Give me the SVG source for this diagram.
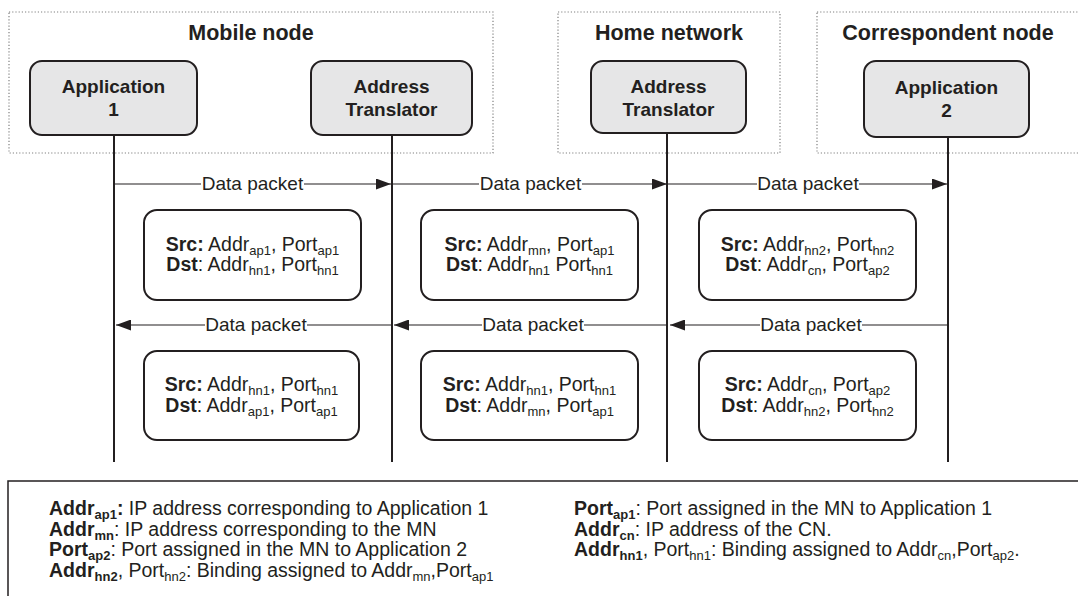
<svg xmlns="http://www.w3.org/2000/svg" width="1078" height="596" viewBox="0 0 1078 596">
<defs>
<style>
.grp{fill:none;stroke:#808080;stroke-width:1.2;stroke-dasharray:1.2 2}
.title{font-family:"Liberation Sans",Arial,sans-serif;font-weight:bold;font-size:21.5px;fill:#231f20;text-anchor:middle}
.node{fill:#e6e6e7;stroke:#231f20;stroke-width:2}
.ntext{font-family:"Liberation Sans",Arial,sans-serif;font-weight:bold;font-size:19px;fill:#231f20;text-anchor:middle}
.life{stroke:#231f20;stroke-width:2}
.conn{stroke:#231f20;stroke-width:1.2;fill:none}
.lbl{font-family:"Liberation Sans",Arial,sans-serif;font-size:19px;fill:#231f20;text-anchor:middle}
.pkt{fill:#fff;stroke:#231f20;stroke-width:2}
.ptext{font-family:"Liberation Sans",Arial,sans-serif;font-size:19.5px;fill:#231f20;text-anchor:middle}
.leg{font-family:"Liberation Sans",Arial,sans-serif;font-size:19.5px;fill:#231f20}
.b{font-weight:bold}
.s{font-size:13px}
</style>
<marker id="ah" markerUnits="userSpaceOnUse" markerWidth="15" markerHeight="11" refX="15" refY="5.5" orient="auto">
<path d="M0,0 L15,5.5 L0,11 z" fill="#231f20"/>
</marker>
</defs>
<rect width="1078" height="596" fill="#fff"/>

<g id="group-mobile">
<rect class="grp" x="9" y="12" width="484" height="141"/>
<text class="title" x="251" y="40">Mobile node</text>
</g>
<g id="group-home">
<rect class="grp" x="558" y="12" width="222" height="141"/>
<text class="title" x="669" y="40">Home network</text>
</g>
<g id="group-cn">
<rect class="grp" x="817" y="12" width="300" height="141"/>
<text class="title" x="948" y="40">Correspondent node</text>
</g>

<g id="lifelines">
<line class="life" x1="114" y1="135" x2="114" y2="462"/>
<line class="life" x1="392" y1="135" x2="392" y2="462"/>
<line class="life" x1="667" y1="133" x2="667" y2="462"/>
<line class="life" x1="948" y1="137" x2="948" y2="462"/>
</g>

<g id="node-app1">
<rect class="node" x="30" y="61" width="167" height="74" rx="12"/>
<text class="ntext" x="113.5" y="93">Application</text>
<text class="ntext" x="113.5" y="116">1</text>
</g>
<g id="node-at-mn">
<rect class="node" x="311" y="61" width="161" height="74" rx="12"/>
<text class="ntext" x="391.5" y="93">Address</text>
<text class="ntext" x="391.5" y="116">Translator</text>
</g>
<g id="node-at-hn">
<rect class="node" x="591" y="61" width="155" height="72" rx="12"/>
<text class="ntext" x="668.5" y="93">Address</text>
<text class="ntext" x="668.5" y="116">Translator</text>
</g>
<g id="node-app2">
<rect class="node" x="864" y="61" width="165" height="76" rx="12"/>
<text class="ntext" x="946.5" y="94">Application</text>
<text class="ntext" x="946.5" y="117">2</text>
</g>

<g id="connectors">
<line class="conn" x1="114" y1="184" x2="201" y2="184"/>
<line class="conn" x1="304" y1="184" x2="391" y2="184" marker-end="url(#ah)"/>
<line class="conn" x1="392" y1="184" x2="479" y2="184"/>
<line class="conn" x1="582" y1="184" x2="667" y2="184" marker-end="url(#ah)"/>
<line class="conn" x1="667" y1="184" x2="757" y2="184"/>
<line class="conn" x1="859" y1="184" x2="947" y2="184" marker-end="url(#ah)"/>
<line class="conn" x1="391" y1="325" x2="307" y2="325"/>
<line class="conn" x1="205" y1="325" x2="116" y2="325" marker-end="url(#ah)"/>
<line class="conn" x1="667" y1="325" x2="584" y2="325"/>
<line class="conn" x1="482" y1="325" x2="394" y2="325" marker-end="url(#ah)"/>
<line class="conn" x1="948" y1="325" x2="862" y2="325"/>
<line class="conn" x1="760" y1="325" x2="670" y2="325" marker-end="url(#ah)"/>
<text class="lbl" x="252.5" y="190">Data packet</text>
<text class="lbl" x="530.5" y="190">Data packet</text>
<text class="lbl" x="808" y="190">Data packet</text>
<text class="lbl" x="256" y="331">Data packet</text>
<text class="lbl" x="533" y="331">Data packet</text>
<text class="lbl" x="811" y="331">Data packet</text>
</g>

<g id="packet-1">
<rect class="pkt" x="144" y="210" width="217" height="90" rx="13"/>
<text class="ptext" x="252.5" y="251"><tspan class="b">Src:</tspan> Addr<tspan class="s" dy="4">ap1</tspan><tspan dy="-4">, Port</tspan><tspan class="s" dy="4">ap1</tspan></text>
<text class="ptext" x="252.5" y="271"><tspan class="b">Dst</tspan>: Addr<tspan class="s" dy="4">hn1</tspan><tspan dy="-4">, Port</tspan><tspan class="s" dy="4">hn1</tspan></text>
</g>
<g id="packet-2">
<rect class="pkt" x="421" y="210" width="217" height="90" rx="13"/>
<text class="ptext" x="529.5" y="251"><tspan class="b">Src:</tspan> Addr<tspan class="s" dy="4">mn</tspan><tspan dy="-4">, Port</tspan><tspan class="s" dy="4">ap1</tspan></text>
<text class="ptext" x="529.5" y="271"><tspan class="b">Dst</tspan>: Addr<tspan class="s" dy="4">hn1</tspan><tspan dy="-4"> Port</tspan><tspan class="s" dy="4">hn1</tspan></text>
</g>
<g id="packet-3">
<rect class="pkt" x="699" y="210" width="217" height="90" rx="13"/>
<text class="ptext" x="807.5" y="251"><tspan class="b">Src:</tspan> Addr<tspan class="s" dy="4">hn2</tspan><tspan dy="-4">, Port</tspan><tspan class="s" dy="4">hn2</tspan></text>
<text class="ptext" x="807.5" y="271"><tspan class="b">Dst</tspan>: Addr<tspan class="s" dy="4">cn</tspan><tspan dy="-4">, Port</tspan><tspan class="s" dy="4">ap2</tspan></text>
</g>
<g id="packet-4">
<rect class="pkt" x="144" y="351" width="215" height="89" rx="13"/>
<text class="ptext" x="251.5" y="391"><tspan class="b">Src:</tspan> Addr<tspan class="s" dy="4">hn1</tspan><tspan dy="-4">, Port</tspan><tspan class="s" dy="4">hn1</tspan></text>
<text class="ptext" x="251.5" y="412"><tspan class="b">Dst</tspan>: Addr<tspan class="s" dy="4">ap1</tspan><tspan dy="-4">, Port</tspan><tspan class="s" dy="4">ap1</tspan></text>
</g>
<g id="packet-5">
<rect class="pkt" x="421" y="351" width="217" height="89" rx="13"/>
<text class="ptext" x="529.5" y="391"><tspan class="b">Src:</tspan> Addr<tspan class="s" dy="4">hn1</tspan><tspan dy="-4">, Port</tspan><tspan class="s" dy="4">hn1</tspan></text>
<text class="ptext" x="529.5" y="412"><tspan class="b">Dst</tspan>: Addr<tspan class="s" dy="4">mn</tspan><tspan dy="-4">, Port</tspan><tspan class="s" dy="4">ap1</tspan></text>
</g>
<g id="packet-6">
<rect class="pkt" x="699" y="351" width="217" height="89" rx="13"/>
<text class="ptext" x="807.5" y="391"><tspan class="b">Src:</tspan> Addr<tspan class="s" dy="4">cn</tspan><tspan dy="-4">, Port</tspan><tspan class="s" dy="4">ap2</tspan></text>
<text class="ptext" x="807.5" y="412"><tspan class="b">Dst</tspan>: Addr<tspan class="s" dy="4">hn2</tspan><tspan dy="-4">, Port</tspan><tspan class="s" dy="4">hn2</tspan></text>
</g>

<g id="legend">
<rect x="8" y="481" width="1100" height="200" fill="none" stroke="#231f20" stroke-width="1.5"/>
<text class="leg" x="49" y="515"><tspan class="b">Addr</tspan><tspan class="b s" dy="4">ap1</tspan><tspan class="b" dy="-4">:</tspan> IP address corresponding to Application 1</text>
<text class="leg" x="49" y="535.5"><tspan class="b">Addr</tspan><tspan class="b s" dy="4">mn</tspan><tspan dy="-4">: IP address corresponding to the MN</tspan></text>
<text class="leg" x="49" y="556"><tspan class="b">Port</tspan><tspan class="b s" dy="4">ap2</tspan><tspan dy="-4">: Port assigned in the MN to Application 2</tspan></text>
<text class="leg" x="49" y="576.5"><tspan class="b">Addr</tspan><tspan class="b s" dy="4">hn2</tspan><tspan dy="-4">, Port</tspan><tspan class="s" dy="4">hn2</tspan><tspan dy="-4">: Binding assigned to Addr</tspan><tspan class="s" dy="4">mn</tspan><tspan dy="-4">,Port</tspan><tspan class="s" dy="4">ap1</tspan></text>
<text class="leg" x="574" y="515"><tspan class="b">Port</tspan><tspan class="b s" dy="4">ap1</tspan><tspan dy="-4">: Port assigned in the MN to Application 1</tspan></text>
<text class="leg" x="574" y="535.5"><tspan class="b">Addr</tspan><tspan class="b s" dy="4">cn</tspan><tspan dy="-4">: IP address of the CN.</tspan></text>
<text class="leg" x="574" y="556"><tspan class="b">Addr</tspan><tspan class="b s" dy="4">hn1</tspan><tspan dy="-4">, Port</tspan><tspan class="s" dy="4">hn1</tspan><tspan dy="-4">: Binding assigned to Addr</tspan><tspan class="s" dy="4">cn</tspan><tspan dy="-4">,Port</tspan><tspan class="s" dy="4">ap2</tspan><tspan dy="-4">.</tspan></text>
</g>
</svg>
